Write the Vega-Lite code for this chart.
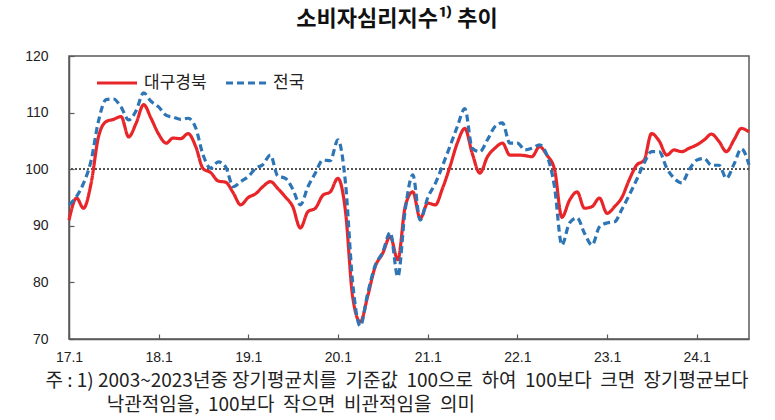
{
  "$schema": "https://vega.github.io/schema/vega-lite/v6.json",
  "width": 680,
  "height": 283,
  "autosize": {"type": "none"},
  "padding": {"left": 69, "top": 56, "right": 26, "bottom": 81},
  "background": "white",
  "title": {
    "text": "소비자심리지수¹⁾ 추이",
    "font": "Noto Sans CJK KR",
    "fontSize": 22,
    "fontWeight": "bold",
    "color": "#111111",
    "anchor": "middle",
    "dx": -12,
    "baseline": "alphabetic",
    "offset": 1
  },
  "config": {
    "view": {"stroke": "#595959", "strokeWidth": 1.5},
    "axis": {
      "grid": false,
      "domainColor": "#595959",
      "domainWidth": 1.5,
      "tickColor": "#595959",
      "tickWidth": 1.2,
      "labelFont": "Liberation Sans",
      "labelFontSize": 14,
      "labelColor": "#222222"
    }
  },
  "datasets": {
    "series": [
      {"month": "2017-01-01", "대구경북": 91.0, "전국": 93.7},
      {"month": "2017-02-01", "대구경북": 94.9, "전국": 95.2},
      {"month": "2017-03-01", "대구경북": 93.1, "전국": 97.5},
      {"month": "2017-04-01", "대구경북": 97.5, "전국": 101.5},
      {"month": "2017-05-01", "대구경북": 105.7, "전국": 108.5},
      {"month": "2017-06-01", "대구경북": 108.4, "전국": 112.3},
      {"month": "2017-07-01", "대구경북": 108.8, "전국": 112.4},
      {"month": "2017-08-01", "대구경북": 109.3, "전국": 111.0},
      {"month": "2017-09-01", "대구경북": 105.7, "전국": 108.7},
      {"month": "2017-10-01", "대구경북": 108.1, "전국": 110.3},
      {"month": "2017-11-01", "대구경북": 111.4, "전국": 113.5},
      {"month": "2017-12-01", "대구경북": 109.0, "전국": 112.0},
      {"month": "2018-01-01", "대구경북": 106.2, "전국": 111.0},
      {"month": "2018-02-01", "대구경북": 104.6, "전국": 109.5},
      {"month": "2018-03-01", "대구경북": 105.5, "전국": 109.2},
      {"month": "2018-04-01", "대구경북": 105.4, "전국": 108.8},
      {"month": "2018-05-01", "대구경북": 106.3, "전국": 109.0},
      {"month": "2018-06-01", "대구경북": 104.0, "전국": 107.3},
      {"month": "2018-07-01", "대구경북": 100.1, "전국": 102.5},
      {"month": "2018-08-01", "대구경북": 99.4, "전국": 100.2},
      {"month": "2018-09-01", "대구경북": 97.9, "전국": 101.3},
      {"month": "2018-10-01", "대구경북": 97.7, "전국": 100.4},
      {"month": "2018-11-01", "대구경북": 95.8, "전국": 96.9},
      {"month": "2018-12-01", "대구경북": 93.7, "전국": 97.8},
      {"month": "2019-01-01", "대구경북": 95.0, "전국": 98.7},
      {"month": "2019-02-01", "대구경북": 95.7, "전국": 100.2},
      {"month": "2019-03-01", "대구경북": 96.9, "전국": 100.8},
      {"month": "2019-04-01", "대구경북": 97.8, "전국": 102.5},
      {"month": "2019-05-01", "대구경북": 96.6, "전국": 98.8},
      {"month": "2019-06-01", "대구경북": 95.1, "전국": 98.4},
      {"month": "2019-07-01", "대구경북": 93.4, "전국": 96.5},
      {"month": "2019-08-01", "대구경북": 89.6, "전국": 93.7},
      {"month": "2019-09-01", "대구경북": 92.5, "전국": 96.9},
      {"month": "2019-10-01", "대구경북": 93.1, "전국": 99.3},
      {"month": "2019-11-01", "대구경북": 95.4, "전국": 101.6},
      {"month": "2019-12-01", "대구경북": 96.0, "전국": 101.5},
      {"month": "2020-01-01", "대구경북": 98.4, "전국": 105.2},
      {"month": "2020-02-01", "대구경북": 92.5, "전국": 97.5},
      {"month": "2020-03-01", "대구경북": 77.5, "전국": 80.0},
      {"month": "2020-04-01", "대구경북": 73.0, "전국": 72.3},
      {"month": "2020-05-01", "대구경북": 77.5, "전국": 78.0},
      {"month": "2020-06-01", "대구경북": 82.8, "전국": 83.0},
      {"month": "2020-07-01", "대구경북": 85.1, "전국": 85.3},
      {"month": "2020-08-01", "대구경북": 88.1, "전국": 88.8},
      {"month": "2020-09-01", "대구경북": 84.0, "전국": 81.0},
      {"month": "2020-10-01", "대구경북": 93.4, "전국": 92.8},
      {"month": "2020-11-01", "대구경북": 96.0, "전국": 99.0},
      {"month": "2020-12-01", "대구경북": 91.3, "전국": 91.0},
      {"month": "2021-01-01", "대구경북": 94.0, "전국": 95.0},
      {"month": "2021-02-01", "대구경북": 93.7, "전국": 97.5},
      {"month": "2021-03-01", "대구경북": 96.5, "전국": 100.5},
      {"month": "2021-04-01", "대구경북": 100.4, "전국": 104.0},
      {"month": "2021-05-01", "대구경북": 104.6, "전국": 107.5},
      {"month": "2021-06-01", "대구경북": 107.2, "전국": 110.7},
      {"month": "2021-07-01", "대구경북": 102.8, "전국": 103.7},
      {"month": "2021-08-01", "대구경북": 99.3, "전국": 103.1},
      {"month": "2021-09-01", "대구경북": 102.2, "전국": 105.2},
      {"month": "2021-10-01", "대구경북": 103.7, "전국": 107.5},
      {"month": "2021-11-01", "대구경북": 104.6, "전국": 108.2},
      {"month": "2021-12-01", "대구경북": 102.5, "전국": 104.6},
      {"month": "2022-01-01", "대구경북": 102.5, "전국": 104.6},
      {"month": "2022-02-01", "대구경북": 102.4, "전국": 103.4},
      {"month": "2022-03-01", "대구경북": 102.2, "전국": 103.7},
      {"month": "2022-04-01", "대구경북": 104.0, "전국": 104.3},
      {"month": "2022-05-01", "대구경북": 102.5, "전국": 102.5},
      {"month": "2022-06-01", "대구경북": 100.0, "전국": 96.9},
      {"month": "2022-07-01", "대구경북": 91.5, "전국": 86.6},
      {"month": "2022-08-01", "대구경북": 94.5, "전국": 90.5},
      {"month": "2022-09-01", "대구경북": 96.0, "전국": 91.4},
      {"month": "2022-10-01", "대구경북": 93.1, "전국": 88.7},
      {"month": "2022-11-01", "대구경북": 93.4, "전국": 86.6},
      {"month": "2022-12-01", "대구경북": 94.9, "전국": 89.8},
      {"month": "2023-01-01", "대구경북": 92.2, "전국": 90.5},
      {"month": "2023-02-01", "대구경북": 93.4, "전국": 90.7},
      {"month": "2023-03-01", "대구경북": 94.9, "전국": 92.8},
      {"month": "2023-04-01", "대구경북": 98.1, "전국": 95.4},
      {"month": "2023-05-01", "대구경북": 100.7, "전국": 98.1},
      {"month": "2023-06-01", "대구경북": 101.6, "전국": 101.1},
      {"month": "2023-07-01", "대구경북": 106.3, "전국": 103.1},
      {"month": "2023-08-01", "대구경북": 105.0, "전국": 103.1},
      {"month": "2023-09-01", "대구경북": 102.5, "전국": 100.2},
      {"month": "2023-10-01", "대구경북": 103.4, "전국": 98.4},
      {"month": "2023-11-01", "대구경북": 103.1, "전국": 97.6},
      {"month": "2023-12-01", "대구경북": 103.7, "전국": 99.9},
      {"month": "2024-01-01", "대구경북": 104.3, "전국": 101.6},
      {"month": "2024-02-01", "대구경북": 105.2, "전국": 101.9},
      {"month": "2024-03-01", "대구경북": 106.2, "전국": 100.7},
      {"month": "2024-04-01", "대구경북": 104.9, "전국": 100.7},
      {"month": "2024-05-01", "대구경북": 103.1, "전국": 98.4},
      {"month": "2024-06-01", "대구경북": 105.2, "전국": 100.9},
      {"month": "2024-07-01", "대구경북": 107.2, "전국": 103.6},
      {"month": "2024-08-01", "대구경북": 106.6, "전국": 100.8}
    ]
  },
  "data": {"name": "series"},
  "transform": [
    {"fold": ["대구경북", "전국"], "as": ["region", "value"]}
  ],
  "layer": [
    {
      "mark": {"type": "rule", "color": "#555555", "strokeWidth": 1.5, "strokeDash": [1.5, 2.5]},
      "encoding": {"y": {"datum": 100}}
    },
    {
      "mark": {"type": "line", "interpolate": "monotone", "strokeWidth": 3.2},
      "encoding": {
        "x": {
          "field": "month",
          "type": "temporal",
          "scale": {"type": "utc", "domain": [{"year": 2017, "month": 1, "date": 1, "utc": true}, {"year": 2024, "month": 8, "date": 1, "utc": true}]},
          "axis": {
            "values": [
              {"year": 2017, "month": 1, "date": 1, "utc": true},
              {"year": 2018, "month": 1, "date": 1, "utc": true},
              {"year": 2019, "month": 1, "date": 1, "utc": true},
              {"year": 2020, "month": 1, "date": 1, "utc": true},
              {"year": 2021, "month": 1, "date": 1, "utc": true},
              {"year": 2022, "month": 1, "date": 1, "utc": true},
              {"year": 2023, "month": 1, "date": 1, "utc": true},
              {"year": 2024, "month": 1, "date": 1, "utc": true}
            ],
            "labelExpr": "utcFormat(datum.value, '%y.%-m')",
            "tickSize": -5,
            "labelPadding": 16,
            "labelFlush": false,
            "labelOverlap": false,
            "title": [
              "주 : 1) 2003~2023년중 장기평균치를 \u00a0기준값 \u00a0100으로 \u00a0하여 \u00a0100보다 \u00a0크면 \u00a0장기평균보다",
              "\u200b\u3000\u3000\u3000\u00a0낙관적임을, \u00a0100보다 \u00a0작으면 \u00a0비관적임을 \u00a0의미"
            ],
            "titleFont": "Noto Sans CJK KR",
            "titleFontSize": 19,
            "titleFontWeight": "normal",
            "titleColor": "#222222",
            "titleAlign": "left",
            "titleBaseline": "top",
            "titleX": -24,
            "titleY": 32,
            "titleLineHeight": 24
          }
        },
        "y": {
          "field": "value",
          "type": "quantitative",
          "scale": {"domain": [70, 120], "nice": false, "zero": false},
          "axis": {
            "values": [70, 80, 90, 100, 110, 120],
            "tickSize": -5,
            "labelPadding": 26,
            "title": null
          }
        },
        "color": {
          "field": "region",
          "type": "nominal",
          "scale": {"domain": ["대구경북", "전국"], "range": ["#E8262A", "#2E75B6"]},
          "legend": {
            "title": null,
            "orient": "none",
            "legendX": 26,
            "legendY": 5,
            "direction": "horizontal",
            "symbolType": "stroke",
            "symbolSize": 1600,
            "symbolStrokeWidth": 3.2,
            "labelFont": "Noto Sans CJK KR",
            "labelFontSize": 17,
            "labelColor": "#222222",
            "labelOffset": 5,
            "columnPadding": 12
          }
        },
        "strokeDash": {
          "field": "region",
          "type": "nominal",
          "scale": {"domain": ["대구경북", "전국"], "range": [[1, 0], [7, 4]]},
          "legend": {
            "title": null,
            "orient": "none",
            "legendX": 26,
            "legendY": 5,
            "direction": "horizontal",
            "symbolType": "stroke",
            "symbolSize": 1600,
            "symbolStrokeWidth": 3.2,
            "labelFont": "Noto Sans CJK KR",
            "labelFontSize": 17,
            "labelColor": "#222222",
            "labelOffset": 5,
            "columnPadding": 12
          }
        }
      }
    }
  ]
}
